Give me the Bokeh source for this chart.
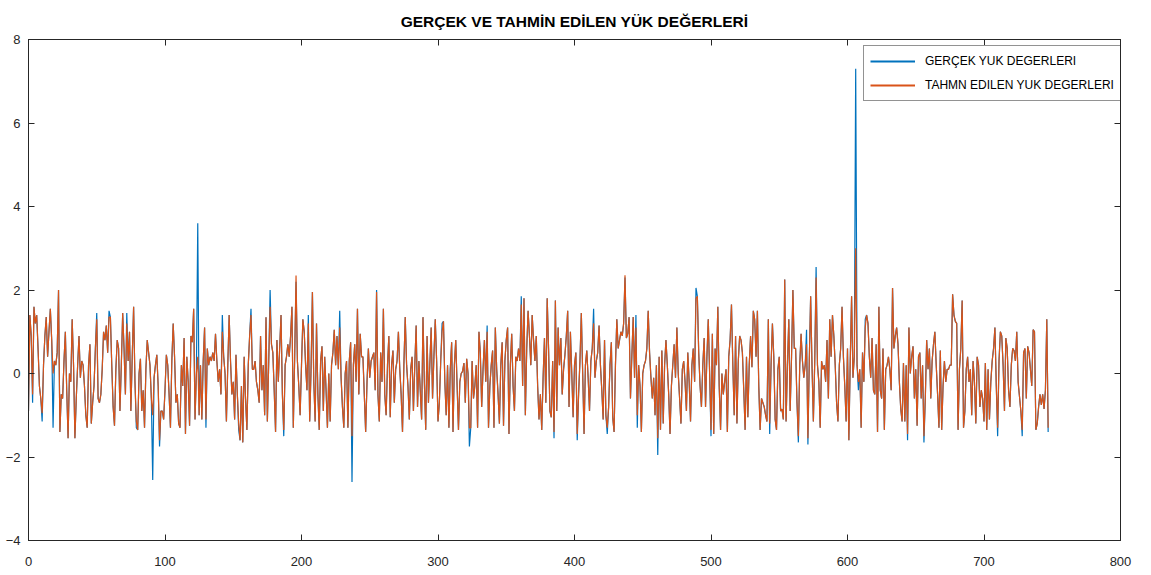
from bokeh.plotting import figure
from bokeh.models import LinearAxis, FixedTicker, Legend, LegendItem, Range1d
from bokeh.embed import file_html
from bokeh.resources import INLINE

title_text = "GERÇEK VE TAHMİN EDİLEN YÜK DEĞERLERİ"
series_names = ["GERÇEK YUK DEGERLERI", "TAHMN EDILEN YUK DEGERLERI"]
x_ticks = [0, 100, 200, 300, 400, 500, 600, 700, 800]
y_ticks = [-4, -2, 0, 2, 4, 6, 8]

actual = [
    -0.9, 1.4, 0.9, -0.7, 1.6, 1.2, 1.4, 0.6, -0.3, -0.6,
    -1.15, 0.2, 0.9, 1.35, 0.4, 1.0, 1.55, 0.8, -1.3, 0.3,
    0.2, 0.5, 2.0, -1.4, -0.5, -0.6, 0.3, 1.0, -0.4, -1.55,
    0.0, -0.2, 1.3, 0.2, -1.55, -0.6, 0.2, 0.9, -0.1, 0.3,
    0.2, -0.3, -1.0, -1.3, 0.2, 0.7, -1.2, -0.7, -0.3, 0.6,
    1.45, -0.6, -0.7, -0.5, 0.1, 1.0, 0.8, 1.15, 0.5, 1.5,
    1.35, 0.2, -0.8, -1.25, 0.1, 0.8, 0.6, -0.9, 0.2, 1.45,
    0.6, -0.5, 1.45, 0.3, 1.0, -0.9, 0.4, 1.6, -0.2, -1.3,
    -1.35, 0.0, 0.35, -0.9, -0.4, -1.3, 0.1, 0.8, 0.5, 0.2,
    -0.6, -2.55, -0.1, 0.2, 0.45, -0.3, -1.75, -0.9, -0.9, -1.1,
    -0.4, 0.45, 0.2, -0.5, -1.3, 0.3, 1.2, 0.4, -0.7, -0.5,
    -1.2, -1.3, 0.2, -0.3, 0.85, -1.45, 0.4, -0.2, -1.25, 0.9,
    0.75, 1.55, -1.1, 0.0, 3.6, -1.0, 0.2, -1.1, 0.3, 1.1,
    -1.3, 0.6, 0.2, 0.4, 0.3, 0.5, 0.3, 0.95, 0.3, -0.2,
    0.1, -0.5, 1.4, 0.4, 0.0, -1.15, 0.2, 1.4, 0.3, -0.5,
    -0.2, -1.1, 0.45, -0.5, -1.35, -1.6, -0.3, -1.65, 0.4, -0.6,
    -1.35, 0.2, 0.9, 1.55, 0.1, 0.1, 0.3, -0.2, -0.4, -0.7,
    0.9, -0.4, 0.2, -1.0, 1.35, -1.15, 0.3, 2.0, 0.7, 0.5,
    -0.4, -1.4, 0.8, -0.2, 0.6, 1.4, -0.5, -1.5, 0.2, 0.4,
    0.7, 0.4, 0.9, 1.6, -1.3, 0.4, 2.2, 0.3, -0.3, -1.0,
    0.2, 1.3, 1.0, 0.2, -0.4, 1.4, -1.15, 0.1, 1.95, -0.2,
    -1.15, 1.2, -0.5, -1.35, 0.3, 0.65, -0.9, 0.4, -0.4, -1.3,
    0.0, -1.15, 0.2, 0.5, 1.05, 0.2, 0.9, 0.1, 1.5, -0.1,
    -0.8, -1.3, 0.0, 0.3, -1.3, 0.3, 0.75, -2.6, 0.2, 0.7,
    -0.2, 1.55, -0.5, 0.95, 0.4, 0.4, -0.5, -1.4, -0.2, 0.6,
    -0.1, 0.3, 0.4, 0.5, -0.4, 2.0, -0.5, -1.15, 0.5, -0.2,
    1.55, -0.5, -1.0, 0.2, 0.9, -1.05, 0.2, 0.55, -0.7, 0.1,
    0.3, 1.0, 0.1, -0.5, -1.4, 0.2, 1.35, 0.2, -0.3, -1.1,
    0.1, 0.4, -0.9, 0.2, 1.15, -0.8, 0.3, -0.4, -1.1, 1.35,
    -0.2, -1.35, 0.9, -0.7, 0.2, 1.1, -0.6, 0.4, 1.3, 0.3,
    -1.15, -0.7, 0.3, 1.2, 1.25, -0.2, -1.0, 0.2, -1.3, 0.1,
    0.75, -1.4, 0.2, 0.8, -0.3, -1.35, -0.2, 0.0, 0.05, 0.25,
    -0.7, 0.35, 0.0, -1.75, -1.3, 0.3, -0.6, -0.3, 0.2, -1.3,
    1.0, 0.5, -0.8, 0.1, 0.8, -0.2, 1.15, -1.3, -0.3, 0.2,
    0.55, -1.3, 1.1, 0.1, -0.5, -1.2, 0.2, 0.75, -1.25, 0.3,
    0.8, 1.1, -1.45, 0.2, 0.95, -0.3, -0.9, 0.4, 0.3, 0.6,
    0.3, 1.85, -0.3, 1.8, -1.0, 0.6, 1.5, 0.9, 0.2, 1.4,
    0.8, 0.3, 0.9, -0.3, -1.1, -0.5, -1.35, -0.1, 0.85, -0.7,
    1.8, 0.6, -0.9, -1.05, 0.3, -1.55, 1.75, -0.9, 1.1, 0.2,
    0.85, -0.5, 0.1, 0.45, 0.9, 1.5, -0.8, 1.0, 0.0, -1.05,
    0.2, 0.5, -1.6, -0.5, 0.3, 1.45, 0.0, -1.45, 0.2, 0.55,
    -0.1, -0.9, 0.3, 0.6, 1.55, -0.1, 0.3, 0.5, 1.15, 0.2,
    -0.4, -1.1, 0.8, -1.0, -1.45, -0.8, 0.2, 0.75, -1.05, -1.4,
    0.2, 1.3, 0.6, 0.8, 1.0, 0.9, 1.2, 2.3, 0.85, 0.95,
    1.35, -0.6, 0.4, 1.35, -0.1, 1.4, -1.3, 0.2, -0.3, -1.4,
    0.0, 0.2, 0.3, 0.6, 1.5, 0.5, -0.1, -0.6, -0.1, -1.0,
    0.2, -1.95, 0.4, -1.35, 0.55, -1.2, 0.2, 0.8, 0.2, -0.5,
    -1.45, -0.3, 0.2, 0.7, -0.1, 1.1, 0.0, -0.6, -1.2, 0.1,
    0.3, -0.2, -0.9, 0.5, -0.2, -1.15, 0.2, 0.6, -0.2, 2.05,
    1.85, 0.5, -0.3, -0.8, 0.2, 0.85, -0.8, 0.4, 1.3, 0.0,
    -1.5, 0.95, -1.45, 0.6, 0.2, 1.6, -0.3, -1.35, 0.0, -0.5,
    -0.2, 0.1, -1.4, 0.4, 0.8, 1.65, 0.2, -1.0, 0.9, -1.2,
    0.3, 0.9, 0.8, 0.5, -0.4, -1.35, 0.4, -1.05, 0.2, 0.9,
    0.15, 1.5, 1.3, 0.4, 1.5, -0.3, -1.35, -0.6, -0.7, -0.8,
    -1.0, -1.15, 1.3, -1.45, 0.2, 1.2, 0.4, -1.1, -1.35, 0.1,
    0.4, -0.9, -0.85, -1.1, 2.25, -1.15, 0.2, 1.3, -0.9, 0.4,
    2.0, 0.6, 0.6, -0.7, -1.65, 0.2, 0.95, 0.3, -0.1, 0.2,
    1.05, -1.7, 0.3, 1.85, 0.2, -1.15, 0.3, 2.55, 0.2, -0.2,
    -1.3, 0.3, 0.1, 0.2, -0.2, 0.8, -0.6, 1.3, 0.4, 1.4,
    0.9, 0.2, -0.7, -1.15, 0.2, 0.6, 1.6, 0.4, -0.3, -1.15,
    0.6, -1.6, 0.3, 1.85, -0.1, 0.4, 7.3, 0.2, -0.4, 0.1,
    -1.3, 0.5, -0.2, 1.3, 1.4, 1.2, 0.4, -0.1, 0.85, -0.4,
    -0.5, 0.7, -1.4, 1.6, -0.4, -0.6, 0.6, -1.35, 0.1, 0.2,
    0.4, 0.1, -0.4, 2.05, 0.6, 0.9, 1.1, 0.7, -0.2, -0.85,
    -1.15, 0.25, -1.15, 0.2, -1.6, 1.1, 0.0, 0.4, 0.65, -0.6,
    0.1, -1.25, 0.4, 0.5, -0.6, 0.2, -1.65, -0.6, 0.8, 0.1,
    0.6, -0.6, 0.3, 0.7, 1.0, 0.2, -0.5, -1.3, 0.55, -1.35,
    -0.3, 0.3, -0.2, 0.1, 0.1, 0.2, 0.2, 1.9, 1.4, 1.25,
    1.2, -1.35, 0.1, 0.6, 1.75, -1.3, -0.9, 0.1, 0.4, -0.2,
    0.1, -1.0, 0.3, -0.2, -1.2, 0.4, 0.2, -0.8, -0.4, -0.6,
    -1.15, 0.25, -1.35, 0.1, -1.1, -0.2, 0.3, 0.6, 1.1, -0.3,
    -1.5, 0.3, 1.0, 0.9, 0.2, -0.9, 0.85, 0.6, -0.4, -0.8,
    0.2, 0.6, 0.55, 0.3, 1.0, -0.2, -0.55, -0.9, -1.5, 0.5,
    0.6, -0.6, 0.65, 0.5, 0.1, -0.3, 1.05, 1.0, -1.35, -1.2,
    -0.8, -0.5, -0.75, -0.5, -0.85, -0.4, 1.3, -1.4,
]

predicted = [
    -0.9, 1.4, 0.9, -0.5, 1.6, 1.2, 1.4, 0.6, -0.3, -0.6,
    -0.95, 0.2, 0.9, 1.35, 0.4, 1.0, 1.55, 0.8, 0.0, 0.3,
    0.2, 0.5, 2.0, -1.4, -0.5, -0.6, 0.3, 1.0, -0.4, -1.55,
    0.0, -0.2, 1.3, 0.2, -1.55, -0.6, 0.2, 0.9, -0.1, 0.3,
    0.2, -0.3, -1.0, -1.3, 0.2, 0.7, -1.2, -0.7, -0.3, 0.6,
    1.3, -0.6, -0.7, -0.5, 0.1, 1.0, 0.8, 1.15, 0.5, 1.35,
    1.35, 0.2, -0.8, -1.25, 0.1, 0.8, 0.6, -0.9, 0.2, 1.45,
    0.6, -0.5, 1.2, 0.3, 1.0, -0.9, 0.4, 1.6, -0.2, -1.15,
    -1.35, 0.0, 0.35, -0.9, -0.4, -1.3, 0.1, 0.8, 0.5, 0.2,
    -0.6, -1.0, -0.1, 0.2, 0.45, -0.3, -1.6, -0.9, -0.9, -1.1,
    -0.4, 0.45, 0.2, -0.5, -1.3, 0.3, 1.2, 0.4, -0.7, -0.5,
    -1.2, -1.3, 0.2, -0.3, 0.85, -1.45, 0.4, -0.2, -1.25, 0.9,
    0.75, 1.55, -1.1, 0.0, 0.4, -1.0, 0.2, -1.1, 0.3, 1.1,
    -1.1, 0.6, 0.2, 0.4, 0.3, 0.5, 0.3, 0.95, 0.3, -0.2,
    0.1, -0.5, 1.0, 0.4, 0.0, -1.15, 0.2, 1.4, 0.3, -0.5,
    -0.2, -1.1, 0.45, -0.5, -1.2, -1.6, -0.3, -1.65, 0.4, -0.6,
    -1.35, 0.2, 0.9, 1.4, 0.1, 0.1, 0.3, -0.2, -0.4, -0.7,
    0.9, -0.4, 0.2, -1.0, 1.35, -1.15, 0.3, 1.6, 0.7, 0.5,
    -0.4, -1.4, 0.8, -0.2, 0.6, 1.4, -0.5, -1.35, 0.2, 0.4,
    0.7, 0.4, 0.9, 1.6, -1.3, 0.4, 2.35, 0.3, -0.3, -1.0,
    0.2, 1.3, 1.0, 0.2, -0.4, 1.2, -1.15, 0.1, 1.95, -0.2,
    -1.15, 1.2, -0.5, -1.35, 0.3, 0.65, -0.9, 0.4, -0.4, -1.3,
    0.0, -1.15, 0.2, 0.5, 1.05, 0.2, 0.9, 0.1, 1.1, -0.1,
    -0.8, -1.3, 0.0, 0.3, -1.3, 0.3, 0.75, -1.5, 0.2, 0.7,
    -0.2, 1.55, -0.5, 0.95, 0.4, 0.4, -0.5, -1.4, -0.2, 0.6,
    -0.1, 0.3, 0.4, 0.5, -0.4, 1.95, -0.5, -1.15, 0.5, -0.2,
    1.55, -0.5, -1.0, 0.2, 0.9, -1.05, 0.2, 0.55, -0.7, 0.1,
    0.3, 1.0, 0.1, -0.5, -1.4, 0.2, 1.35, 0.2, -0.3, -1.1,
    0.1, 0.4, -0.9, 0.2, 1.15, -0.8, 0.3, -0.4, -1.1, 1.35,
    -0.2, -1.35, 0.9, -0.7, 0.2, 1.1, -0.6, 0.4, 1.3, 0.3,
    -1.15, -0.7, 0.3, 1.0, 1.25, -0.2, -1.0, 0.2, -1.3, 0.1,
    0.75, -1.4, 0.2, 0.8, -0.3, -1.35, -0.2, 0.0, 0.05, 0.25,
    -0.7, 0.35, 0.0, -1.3, -1.3, 0.3, -0.6, -0.3, 0.2, -1.3,
    1.0, 0.5, -0.8, 0.1, 0.8, -0.2, 1.0, -1.3, -0.3, 0.2,
    0.55, -1.3, 1.1, 0.1, -0.5, -1.2, 0.2, 0.75, -1.25, 0.3,
    0.8, 1.1, -1.45, 0.2, 0.95, -0.3, -0.9, 0.4, 0.3, 0.6,
    0.3, 1.65, -0.3, 1.8, -1.0, 0.6, 1.5, 0.9, 0.2, 1.4,
    0.8, 0.3, 0.9, -0.3, -1.1, -0.5, -1.35, -0.1, 0.85, -0.7,
    1.8, 0.6, -0.9, -1.05, 0.3, -1.4, 1.75, -0.9, 1.1, 0.2,
    0.85, -0.5, 0.1, 0.45, 0.9, 1.5, -0.8, 1.0, 0.0, -1.05,
    0.2, 0.5, -1.45, -0.5, 0.3, 1.45, 0.0, -1.45, 0.2, 0.55,
    -0.1, -0.9, 0.3, 0.6, 1.2, -0.1, 0.3, 0.5, 1.15, 0.2,
    -0.4, -1.1, 0.8, -1.0, -1.3, -0.8, 0.2, 0.75, -1.05, -1.4,
    0.2, 1.3, 0.6, 0.8, 1.0, 0.9, 1.2, 2.35, 0.85, 0.95,
    1.35, -0.6, 0.4, 1.35, -0.1, 1.1, -1.0, 0.2, -0.3, -1.4,
    0.0, 0.2, 0.3, 0.6, 1.5, 0.5, -0.1, -0.6, -0.1, -1.0,
    0.2, -1.55, 0.4, -1.35, 0.55, -1.2, 0.2, 0.8, 0.2, -0.5,
    -1.45, -0.3, 0.2, 0.7, -0.1, 1.1, 0.0, -0.6, -1.2, 0.1,
    0.3, -0.2, -0.9, 0.5, -0.2, -1.15, 0.2, 0.6, -0.2, 1.8,
    1.85, 0.5, -0.3, -0.8, 0.2, 0.85, -0.8, 0.4, 1.3, 0.0,
    -1.35, 0.95, -1.45, 0.6, 0.2, 1.6, -0.3, -1.35, 0.0, -0.5,
    -0.2, 0.1, -1.4, 0.4, 0.8, 1.65, 0.2, -1.0, 0.9, -1.2,
    0.3, 0.9, 0.8, 0.5, -0.4, -1.35, 0.4, -1.05, 0.2, 0.9,
    0.15, 1.5, 1.3, 0.4, 1.5, -0.3, -1.35, -0.6, -0.7, -0.8,
    -1.0, -1.15, 1.3, -1.2, 0.2, 1.2, 0.4, -1.1, -1.35, 0.1,
    0.4, -0.9, -0.85, -1.1, 2.25, -1.15, 0.2, 1.3, -0.9, 0.4,
    2.0, 0.6, 0.6, -0.7, -1.5, 0.2, 0.95, 0.3, -0.1, 0.2,
    0.7, -1.55, 0.3, 1.85, 0.2, -1.15, 0.3, 2.3, 0.2, -0.2,
    -1.3, 0.3, 0.1, 0.2, -0.2, 0.8, -0.6, 1.3, 0.4, 1.4,
    0.9, 0.2, -0.7, -1.15, 0.2, 0.6, 1.6, 0.4, -0.3, -1.15,
    0.6, -1.6, 0.3, 1.85, -0.1, 0.4, 3.0, 0.2, -0.2, 0.1,
    -1.3, 0.5, -0.2, 1.1, 1.4, 1.2, 0.4, -0.1, 0.85, -0.4,
    -0.5, 0.7, -1.4, 1.6, -0.4, -0.6, 0.6, -1.35, 0.1, 0.2,
    0.4, 0.1, -0.4, 2.05, 0.6, 0.9, 1.1, 0.7, -0.2, -0.85,
    -1.15, 0.25, -1.15, 0.2, -1.45, 1.1, 0.0, 0.4, 0.65, -0.6,
    0.1, -1.25, 0.4, 0.5, -0.6, 0.2, -1.5, -0.6, 0.8, 0.1,
    0.6, -0.6, 0.3, 0.7, 1.0, 0.2, -0.5, -1.3, 0.55, -1.35,
    -0.3, 0.3, -0.2, 0.1, 0.1, 0.2, 0.2, 1.9, 1.4, 1.25,
    1.2, -1.35, 0.1, 0.6, 1.75, -1.3, -0.9, 0.1, 0.4, -0.2,
    0.1, -1.0, 0.3, -0.2, -1.2, 0.4, 0.2, -0.8, -0.4, -0.6,
    -1.15, 0.25, -1.35, 0.1, -1.1, -0.2, 0.3, 0.6, 1.1, -0.3,
    -1.3, 0.3, 1.0, 0.9, 0.2, -0.9, 0.85, 0.6, -0.4, -0.8,
    0.2, 0.6, 0.55, 0.3, 1.0, -0.2, -0.55, -0.9, -1.35, 0.5,
    0.6, -0.6, 0.65, 0.5, 0.1, -0.3, 1.05, 1.0, -1.35, -1.2,
    -0.8, -0.5, -0.75, -0.5, -0.85, -0.4, 1.3, -1.3,
]

sample_index = list(range(len(actual)))

FONT = "Liberation Sans"
AX = "#262626"
BLUE = "#0072BD"
ORANGE = "#D95319"

p = figure(width=1151, height=575, x_range=Range1d(0, 800), y_range=Range1d(-4, 8),
           output_backend="svg", toolbar_location=None,
           min_border_left=28, min_border_right=31, min_border_top=37, min_border_bottom=35)

p.title.text = title_text
p.title.align = "center"
p.title.text_font = FONT
p.title.text_font_size = "15.5px"
p.title.text_font_style = "bold"
p.title.text_color = "black"
p.title.standoff = 20

p.xgrid.visible = False
p.ygrid.visible = False
p.outline_line_color = AX
p.outline_line_width = 1
p.background_fill_color = "white"
p.border_fill_color = "white"

p.add_layout(LinearAxis(), "above")
p.add_layout(LinearAxis(), "right")

for ax in p.xaxis:
    ax.ticker = FixedTicker(ticks=x_ticks)
for ax in p.yaxis:
    ax.ticker = FixedTicker(ticks=y_ticks)

for ax in p.axis:
    ax.axis_line_color = AX
    ax.major_tick_line_color = AX
    ax.major_tick_in = 6
    ax.major_tick_out = 0
    ax.minor_tick_line_color = None
    ax.major_label_text_font = FONT
    ax.major_label_text_font_size = "13px"
    ax.major_label_text_color = AX

p.below[0].major_label_standoff = 16
p.left[0].major_label_standoff = 8
for ax in (p.above[0], p.right[0]):
    ax.major_label_text_font_size = "1px"
    ax.major_label_text_color = None
    ax.major_label_standoff = 0

p.line(sample_index, actual, line_color=BLUE, line_width=1.2)
p.line(sample_index, predicted, line_color=ORANGE, line_width=1.2)

# legend keys: single-point lines (draw nothing in the plot, only the key style)
key_act = p.line(sample_index[:1], actual[:1], line_color=BLUE, line_width=1.8)
key_pred = p.line(sample_index[:1], predicted[:1], line_color=ORANGE, line_width=1.8)

legend = Legend(items=[LegendItem(label=series_names[0], renderers=[key_act]),
                       LegendItem(label=series_names[1], renderers=[key_pred])],
                location=(835, 439))
legend.label_text_font = FONT
legend.label_text_font_size = "12px"
legend.label_text_color = "black"
legend.glyph_width = 45
legend.glyph_height = 18
legend.label_height = 18
legend.label_standoff = 10
legend.spacing = 6
legend.padding = 6
legend.margin = 0
legend.border_line_color = AX
legend.border_line_width = 1
legend.background_fill_color = "white"
legend.background_fill_alpha = 1.0
p.add_layout(legend, "center")

open("out.html", "w").write(file_html(p, INLINE))
